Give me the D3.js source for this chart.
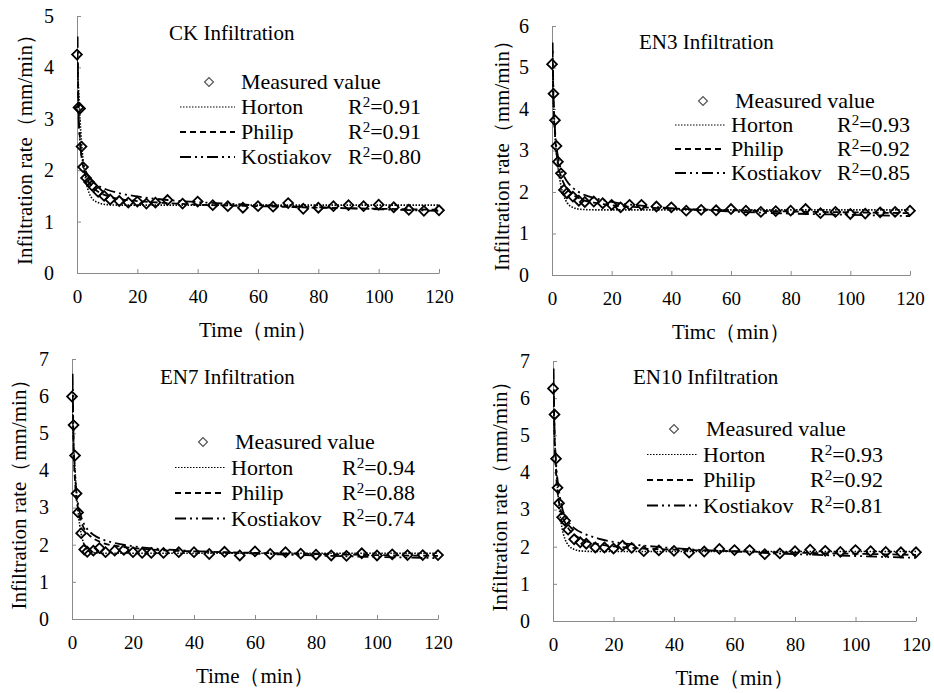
<!DOCTYPE html>
<html>
<head>
<meta charset="utf-8">
<script src="https://cdn.jsdelivr.net/npm/d3@7"></script>
</head>
<body style="margin:0;background:#fff">
<svg id="vis" width="934" height="693"></svg>
<script>
// measured times (min), shared by all four soils
const times = [0, 0.5, 1, 1.5, 2, 3, 4, 5, 7, 9, 11, 14, 17, 20, 23, 26, 30, 35, 40, 45, 50, 55, 60, 65, 70, 75, 80, 85, 90, 95, 100, 105, 110, 115, 120]

const ckMeasured = [4.25, 3.22, 3.2, 2.46, 2.06, 1.85, 1.77, 1.70, 1.58, 1.50, 1.43, 1.40, 1.37, 1.39, 1.35, 1.37, 1.42, 1.35, 1.39, 1.32, 1.30, 1.27, 1.30, 1.29, 1.36, 1.25, 1.27, 1.30, 1.32, 1.30, 1.33, 1.28, 1.23, 1.21, 1.22]
const en3Measured = [5.08, 4.37, 3.73, 3.11, 2.73, 2.45, 2.05, 1.97, 1.89, 1.79, 1.76, 1.77, 1.73, 1.69, 1.63, 1.69, 1.69, 1.65, 1.63, 1.55, 1.57, 1.56, 1.59, 1.55, 1.52, 1.54, 1.55, 1.59, 1.49, 1.52, 1.47, 1.48, 1.51, 1.52, 1.55]
const en7Measured = [5.99, 5.22, 4.40, 3.38, 2.87, 2.31, 1.87, 1.81, 1.84, 1.91, 1.80, 1.84, 1.86, 1.80, 1.78, 1.78, 1.78, 1.80, 1.80, 1.75, 1.81, 1.71, 1.82, 1.75, 1.80, 1.76, 1.73, 1.71, 1.70, 1.77, 1.71, 1.74, 1.72, 1.72, 1.72]
const en10Measured = [6.26, 5.56, 4.37, 3.59, 3.17, 2.79, 2.70, 2.46, 2.20, 2.12, 2.08, 1.98, 1.98, 1.95, 2.03, 1.97, 1.88, 1.90, 1.89, 1.84, 1.87, 1.94, 1.91, 1.91, 1.80, 1.82, 1.88, 1.92, 1.89, 1.86, 1.91, 1.88, 1.86, 1.85, 1.85]

// fitted curves at these times
const curveTimes = [0, 0.2, 0.5, 1, 2, 3, 4, 5, 7, 10, 15, 20, 30, 40, 60, 80, 100, 120]

const ckHorton = [4.2, 3.95, 3.6, 3.0, 2.2, 1.78, 1.56, 1.45, 1.37, 1.33, 1.32, 1.32, 1.32, 1.32, 1.32, 1.32, 1.32, 1.32]
const ckPhilip = [null, 4.3, 3.2, 2.6, 2.08, 1.88, 1.76, 1.68, 1.58, 1.50, 1.43, 1.40, 1.36, 1.33, 1.30, 1.27, 1.25, 1.23]
const ckKostiakov = [null, 4.6, 3.1, 2.55, 2.15, 1.97, 1.86, 1.79, 1.70, 1.62, 1.54, 1.49, 1.42, 1.38, 1.32, 1.28, 1.24, 1.21]

const en3Horton = [5.1, 4.7, 4.1, 3.4, 2.6, 2.15, 1.9, 1.75, 1.63, 1.58, 1.57, 1.57, 1.57, 1.57, 1.57, 1.57, 1.57, 1.57]
const en3Philip = [null, 5.4, 4.2, 3.4, 2.7, 2.38, 2.2, 2.08, 1.94, 1.82, 1.73, 1.68, 1.63, 1.60, 1.56, 1.53, 1.51, 1.49]
const en3Kostiakov = [null, 5.6, 4.3, 3.5, 2.85, 2.55, 2.38, 2.26, 2.1, 1.96, 1.84, 1.76, 1.67, 1.61, 1.53, 1.48, 1.45, 1.42]

const en7Horton = [6.0, 5.5, 4.8, 4.0, 2.9, 2.3, 2.0, 1.87, 1.79, 1.77, 1.77, 1.77, 1.77, 1.77, 1.77, 1.77, 1.77, 1.77]
const en7Philip = [null, 6.3, 4.7, 3.7, 2.95, 2.62, 2.43, 2.31, 2.17, 2.05, 1.96, 1.91, 1.85, 1.82, 1.78, 1.75, 1.72, 1.70]
const en7Kostiakov = [null, 6.6, 4.9, 3.9, 3.1, 2.75, 2.55, 2.42, 2.27, 2.14, 2.03, 1.96, 1.88, 1.83, 1.76, 1.71, 1.67, 1.64]

const en10Horton = [6.2, 5.7, 5.0, 4.2, 3.1, 2.5, 2.2, 2.05, 1.93, 1.88, 1.87, 1.87, 1.87, 1.87, 1.87, 1.87, 1.87, 1.87]
const en10Philip = [null, 6.5, 5.0, 4.0, 3.2, 2.85, 2.65, 2.5, 2.33, 2.18, 2.07, 2.01, 1.95, 1.92, 1.88, 1.84, 1.81, 1.78]
const en10Kostiakov = [null, 6.8, 5.2, 4.3, 3.5, 3.05, 2.82, 2.68, 2.5, 2.36, 2.22, 2.13, 2.03, 1.96, 1.87, 1.80, 1.75, 1.70]

const titles = ["CK Infiltration", "EN3 Infiltration", "EN7 Infiltration", "EN10 Infiltration"]
const yMaxes = [5, 6, 7, 7]
const xTitles = ["Time（min）", "Timc（min）", "Time（min）", "Time（min）"]
const yTitle = "Infiltration rate（mm/min）"
const modelNames = ["Horton", "Philip", "Kostiakov"]
const r2Values = [["0.91", "0.91", "0.80"], ["0.93", "0.92", "0.85"], ["0.94", "0.88", "0.74"], ["0.93", "0.92", "0.81"]]
const xTicks = [0, 20, 40, 60, 80, 100, 120]

const measured = [ckMeasured, en3Measured, en7Measured, en10Measured]
const curves = [
    [ckHorton, ckPhilip, ckKostiakov],
    [en3Horton, en3Philip, en3Kostiakov],
    [en7Horton, en7Philip, en7Kostiakov],
    [en10Horton, en10Philip, en10Kostiakov]
]

// panel geometry (pixels)
const layout = [
    { x0: 77, x1: 439, y0: 273, y1: 16, title: [169, 40], leg: [209, 82, 25], line: [180, 235], r2x: 348, ytx: 25 },
    { x0: 552, x1: 910, y0: 275, y1: 26, title: [639, 49], leg: [703, 101, 24], line: [675, 725], r2x: 837, ytx: 502 },
    { x0: 72, x1: 438, y0: 619, y1: 359, title: [160, 384], leg: [203, 442, 25.5], line: [175, 225], r2x: 342, ytx: 19 },
    { x0: 553, x1: 916, y0: 621, y1: 361, title: [633, 384], leg: [674, 429, 25.5], line: [647, 697], r2x: 810, ytx: 500 }
]

const dashes = ["1.5,1.5", "6,4", "11,4,2,4,2,4"]
const axisColor = "#8a8a8a"
const serif = '"Liberation Serif", "Times New Roman", serif'

let svg = d3.select("#vis").style("font-family", serif)

function label(sel, size) {
    return sel.style("font-family", serif).style("font-size", size + "px").attr("fill", "#000")
}

layout.forEach((L, p) => {
    let x = d3.scaleLinear().domain([0, 120]).range([L.x0, L.x1])
    let y = d3.scaleLinear().domain([0, yMaxes[p]]).range([L.y0, L.y1])
    let g = svg.append("g").attr("class", "panel")

    g.append("clipPath").attr("id", "clip" + p)
        .append("rect")
        .attr("x", L.x0).attr("y", L.y1)
        .attr("width", L.x1 - L.x0 + 2).attr("height", L.y0 - L.y1)

    //yAxis
    let yAxis = g.append("g")
        .attr("transform", `translate(${L.x0},0)`)
        .call(d3.axisLeft(y).ticks(yMaxes[p]).tickSize(-4).tickSizeOuter(0).tickPadding(23))
    yAxis.attr("font-family", null)
    yAxis.select(".domain").attr("stroke", axisColor)
    yAxis.selectAll(".tick line").attr("stroke", axisColor)
    label(yAxis.selectAll("text"), 20)

    //xAxis
    let xAxis = g.append("g")
        .attr("transform", `translate(0,${L.y0})`)
        .call(d3.axisBottom(x).tickValues(xTicks).tickSize(-4).tickSizeOuter(0).tickPadding(17))
    xAxis.attr("font-family", null)
    xAxis.select(".domain").attr("stroke", axisColor)
    xAxis.selectAll(".tick line").attr("stroke", axisColor)
    label(xAxis.selectAll("text"), 19)

    // axis titles
    label(g.append("text"), 21)
        .attr("x", (L.x0 + L.x1) / 2)
        .attr("y", L.y0 + 64)
        .attr("text-anchor", "middle")
        .text(xTitles[p])

    label(g.append("text"), 21)
        .attr("transform", `translate(${L.ytx + 7},${(L.y0 + L.y1) / 2}) rotate(-90)`)
        .attr("text-anchor", "middle")
        .text(yTitle)

    // chart title
    label(g.append("text"), 21)
        .attr("x", L.title[0]).attr("y", L.title[1])
        .text(titles[p])

    // fitted curves
    curves[p].forEach((vals, k) => {
        let pts = curveTimes.map((t, i) => ({ t: t, v: vals[i] })).filter(d => d.v != null)
        g.append("path")
            .datum(pts)
            .attr("clip-path", `url(#clip${p})`)
            .attr("fill", "none")
            .attr("stroke", "#000")
            .attr("stroke-width", k == 0 ? 1.6 : 1.8)
            .attr("stroke-dasharray", dashes[k])
            .attr("d", d3.line()
                .x(d => x(d.t))
                .y(d => y(d.v))
                .curve(d3.curveMonotoneX))
    })

    // measured points
    g.selectAll(".pt")
        .data(times.map((t, i) => ({ t: t, v: measured[p][i] })))
        .join("path")
        .attr("class", "pt")
        .attr("transform", d => `translate(${x(d.t)},${y(d.v)}) rotate(45)`)
        .attr("d", d3.symbol(d3.symbolSquare, 48))
        .attr("fill", "none")
        .attr("stroke", "#000")
        .attr("stroke-width", 1.8)

    // legend
    let leg = g.append("g")
    let [lx, ly, step] = L.leg
    leg.append("path")
        .attr("transform", `translate(${lx},${ly}) rotate(45)`)
        .attr("d", d3.symbol(d3.symbolSquare, 40))
        .attr("fill", "none")
        .attr("stroke", "#555")
        .attr("stroke-width", 1.2)
    label(leg.append("text"), 22)
        .attr("x", lx + 32).attr("y", ly + 7)
        .text("Measured value")

    modelNames.forEach((name, k) => {
        let ry = ly + step * (k + 1)
        leg.append("line")
            .attr("x1", L.line[0]).attr("x2", L.line[1])
            .attr("y1", ry).attr("y2", ry)
            .attr("stroke", "#000")
            .attr("stroke-width", k == 0 ? 1.2 : 2)
            .attr("stroke-dasharray", dashes[k])
        label(leg.append("text"), 22)
            .attr("x", L.line[1] + 6).attr("y", ry + 7)
            .text(name)
        let r = label(leg.append("text"), 22)
            .attr("x", L.r2x).attr("y", ry + 7)
        r.append("tspan").text("R")
        r.append("tspan").attr("dy", -7).style("font-size", "15px").text("2")
        r.append("tspan").attr("dy", 7).text("=" + r2Values[p][k])
    })
})
</script>
</body>
</html>
